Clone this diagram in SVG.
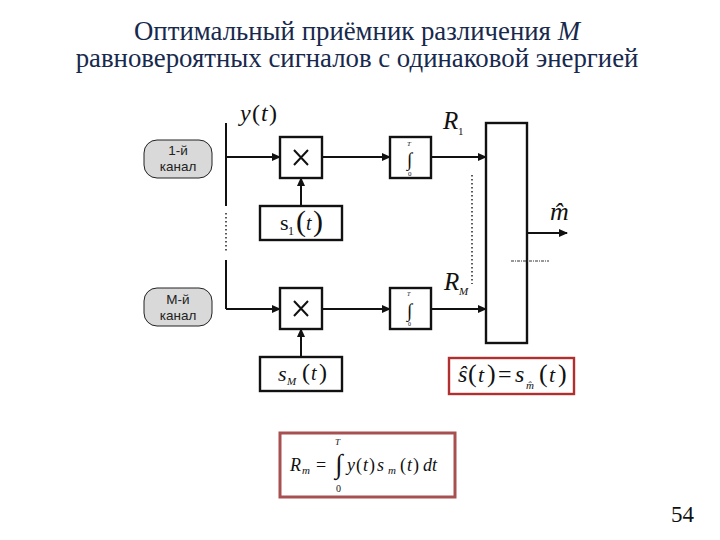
<svg xmlns="http://www.w3.org/2000/svg" width="720" height="540" viewBox="0 0 720 540">
<style>
.t{font-family:"Liberation Serif",serif;fill:#17294d;font-size:26.8px;text-anchor:middle}
.b{fill:#fff;stroke:#111;stroke-width:2.4}
.ch{fill:#d9d9d9;stroke:#222;stroke-width:1}
.cl{font-family:"Liberation Sans",sans-serif;font-size:13.5px;fill:#222;text-anchor:middle}
.m{font-family:"Liberation Serif",serif;fill:#111}
.i{font-style:italic}
.c{fill:none;stroke:#111;stroke-width:2}
.d{fill:none;stroke:#222;stroke-width:1.5;stroke-dasharray:1.5 2.5}
.r{fill:#fff;stroke:#b22f2f;stroke-width:2.4}
.r2{fill:#fff;stroke:#a85050;stroke-width:3}
</style>
<defs><marker id="a" markerWidth="9" markerHeight="8" refX="8" refY="4" orient="auto" markerUnits="userSpaceOnUse"><path d="M0 0L9 4L0 8Z" fill="#111"/></marker></defs>
<rect width="720" height="540" fill="#fff"/>
<text class="t" x="357" y="40">Оптимальный приёмник различения <tspan font-style="italic">M</tspan></text>
<text class="t" x="357" y="67">равновероятных сигналов с одинаковой энергией</text>
<g id="connectors">
<path class="c" d="M226 123V206M226 260V309"/>
<path class="d" d="M226 213V252M472 175V284"/>
<path class="c" marker-end="url(#a)" d="M227 157H280"/>
<path class="c" marker-end="url(#a)" d="M226 309H280"/>
<path class="c" marker-end="url(#a)" d="M301 206V178"/>
<path class="c" marker-end="url(#a)" d="M301 357V329"/>
<path class="c" marker-end="url(#a)" d="M322 157H390"/>
<path class="c" marker-end="url(#a)" d="M322 309H390"/>
<path class="c" marker-end="url(#a)" d="M431 157H486"/>
<path class="c" marker-end="url(#a)" d="M431 309H486"/>
<path class="c" marker-end="url(#a)" d="M527 233H567"/>
</g>
<g id="channel1"><rect class="ch" x="144" y="140" width="68" height="38" rx="13"/><text class="cl" x="178" y="155">1-й</text><text class="cl" x="178" y="171">канал</text></g>
<g id="channelM"><rect class="ch" x="144" y="288" width="68" height="38" rx="13"/><text class="cl" x="178" y="304">М-й</text><text class="cl" x="178" y="320">канал</text></g>
<g id="mixer1"><rect class="b" x="280" y="137" width="42" height="41"/><path d="M294 150L308 165M308 150L294 165" stroke="#111" stroke-width="2" fill="none"/></g>
<g id="mixerM"><rect class="b" x="280" y="288" width="42" height="41"/><path d="M294 301L308 316M308 301L294 316" stroke="#111" stroke-width="2" fill="none"/></g>
<g id="s1"><rect class="b" x="260" y="206" width="82" height="34"/><text class="m" font-size="22" x="280" y="230">s</text><text class="m" font-size="12" x="288" y="235">1</text><text class="m" font-size="30" x="296" y="231">(</text><text class="m i" font-size="20" x="306" y="230">t</text><text class="m" font-size="30" x="313" y="231">)</text></g>
<g id="sM"><rect class="b" x="260" y="357" width="82" height="34"/><text class="m i" font-size="22" x="278" y="381">s</text><text class="m i" font-size="11" x="287" y="385">M</text><text class="m" font-size="24" x="302" y="380">(</text><text class="m i" font-size="20" x="311" y="380">t</text><text class="m" font-size="24" x="319" y="380">)</text></g>
<g id="int1"><rect class="b" x="390" y="137" width="41" height="41"/><text class="m i" font-size="7" x="407" y="146">T</text><text class="m" font-size="19" x="407" y="166">∫</text><text class="m" font-size="7" x="408" y="176">0</text></g>
<g id="intM"><rect class="b" x="390" y="288" width="41" height="41"/><text class="m i" font-size="6" x="407" y="296">T</text><text class="m" font-size="19" x="407" y="317">∫</text><text class="m" font-size="6" x="408" y="326">0</text></g>
<g id="decider"><rect class="b" x="486" y="123" width="41" height="220"/><path d="M511 261H549" fill="none" stroke="#333" stroke-width="1" stroke-dasharray="3 1 1 1"/></g>
<g id="labels">
<text class="m i" font-size="24" x="240" y="121">y</text><text class="m" font-size="24" x="252" y="121">(</text><text class="m i" font-size="24" x="261" y="121">t</text><text class="m" font-size="24" x="269" y="121">)</text>
<text class="m i" font-size="25" x="443" y="129">R</text><text class="m" font-size="11" x="458" y="135">1</text>
<text class="m i" font-size="25" x="444" y="290">R</text><text class="m i" font-size="11" x="459" y="295">M</text>
<text class="m i" font-size="26" x="550" y="220">m̂</text>
</g>
<g id="result"><rect class="r" x="449" y="358" width="125" height="36"/>
<text class="m i" font-size="24" x="458" y="382">ŝ</text><text class="m" font-size="26" x="468" y="382">(</text><text class="m i" font-size="22" x="478" y="382">t</text><text class="m" font-size="26" x="487" y="382">)</text><text class="m" font-size="24" x="498" y="382">=</text><text class="m i" font-size="24" x="515" y="382">s</text><text class="m i" font-size="11" x="526" y="389">m̂</text><text class="m" font-size="26" x="539" y="382">(</text><text class="m i" font-size="22" x="549" y="382">t</text><text class="m" font-size="26" x="558" y="382">)</text></g>
<g id="formula"><rect class="r2" x="280" y="433" width="175" height="64"/>
<text class="m i" font-size="18" x="290" y="471">R</text><text class="m i" font-size="11" x="302" y="474">m</text><text class="m" font-size="18" x="316" y="471">=</text><text class="m" font-size="27" x="335" y="473">∫</text><text class="m i" font-size="9" x="335" y="445">T</text><text class="m" font-size="10" x="336" y="492">0</text><text class="m i" font-size="18" x="347" y="471">y</text><text class="m" font-size="18" x="356" y="471">(</text><text class="m i" font-size="18" x="363" y="471">t</text><text class="m" font-size="18" x="369" y="471">)</text><text class="m i" font-size="18" x="377" y="471">s</text><text class="m i" font-size="11" x="388" y="474">m</text><text class="m" font-size="18" x="400" y="471">(</text><text class="m i" font-size="18" x="407" y="471">t</text><text class="m" font-size="18" x="413" y="471">)</text><text class="m i" font-size="18" x="423" y="471">dt</text></g>
<text class="m" font-size="23" fill="#222" x="671" y="522">54</text>
</svg>
